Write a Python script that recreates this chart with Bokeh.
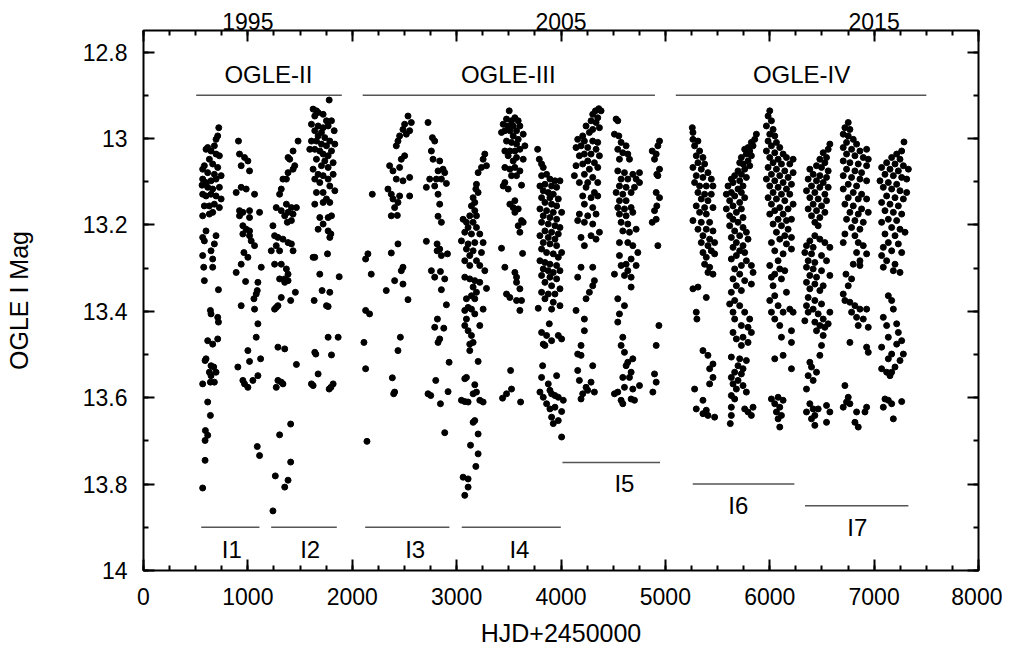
from bokeh.plotting import figure
from bokeh.models import Range1d, LinearAxis, FixedTicker, Label, ColumnDataSource
from bokeh.embed import file_html
from bokeh.resources import INLINE

# ---- photometry (HJD-2450000, OGLE I mag), read season by season ----
s01 = [(721,12.975),(711,12.994),(695,13.002),(679,13.017),(615,13.021),(599,13.025),(647,13.029),(695,13.036),(727,13.040),(631,13.048),(583,13.063),(663,13.059),(711,13.067),(567,13.071),(615,13.079),(679,13.083),(744,13.086),(567,13.094),(599,13.102),(647,13.098),(695,13.094),(561,13.108),(615,13.113),(663,13.117),(727,13.113),(567,13.129),(599,13.133),(647,13.129),(695,13.133),(744,13.140),(583,13.156),(631,13.156),(679,13.152),(727,13.160),(567,13.179),(631,13.175),(663,13.171),
       (599,13.214),(567,13.229),(583,13.237),(695,13.225),(679,13.244),(647,13.260),(567,13.271),(663,13.279),(577,13.298),(663,13.298),(583,13.329),(718,13.350),(641,13.398),(647,13.406),(711,13.414),(718,13.425),(615,13.468),(663,13.476),(711,13.464),(599,13.510),(590,13.514),(647,13.526),(673,13.529),(631,13.541),(695,13.541),(647,13.549),(567,13.568),(641,13.564),(679,13.564),(615,13.610),(641,13.641),(593,13.676),(615,13.687),(590,13.699),(590,13.745),(567,13.809)]
s02 = [(910,13.006),(920,13.036),(968,13.044),(1000,13.052),(936,13.063),(1016,13.075),(936,13.113),(984,13.117),(888,13.125),(1064,13.129),(920,13.167),(952,13.171),(1016,13.167),(1112,13.171),(920,13.179),(1016,13.183),(952,13.202),(984,13.210),(1016,13.214),(952,13.221),(1016,13.225),(1032,13.237),(1064,13.248),(962,13.264),(1000,13.275),(936,13.291),(1128,13.298),(888,13.310),(978,13.331),(1096,13.333),(1090,13.352),(1080,13.360),(1058,13.371),(936,13.387),(1064,13.395),(1096,13.429),(1080,13.460),(1000,13.491),(1016,13.516),(1122,13.510),(904,13.529),(952,13.560),(968,13.568),(1000,13.576),(1048,13.560),(1096,13.549),(1090,13.713),(1112,13.734)]
s03 = [(1481,13.006),(1433,13.029),(1385,13.044),(1401,13.048),(1449,13.063),(1433,13.071),(1385,13.079),(1336,13.094),(1369,13.094),(1320,13.117),(1304,13.129),(1272,13.160),(1369,13.152),(1417,13.160),(1465,13.160),(1320,13.167),(1385,13.171),(1433,13.175),(1353,13.179),(1378,13.194),(1240,13.202),(1417,13.190),(1256,13.225),(1288,13.229),(1336,13.233),(1385,13.241),(1417,13.244),(1272,13.248),(1224,13.260),(1433,13.260),(1304,13.260),(1256,13.291),(1320,13.291),(1369,13.302),(1385,13.314),(1353,13.325),(1304,13.325),(1353,13.333),(1385,13.329),(1455,13.356),(1320,13.368),(1410,13.375),(1272,13.391),(1256,13.395),(1288,13.387),(1288,13.483),(1353,13.487),(1465,13.523),(1288,13.560),(1320,13.564),(1272,13.576),(1336,13.568),(1304,13.686),(1410,13.661),(1410,13.749),(1263,13.781),(1385,13.791),(1353,13.807),(1240,13.862)]
s04 = [(1779,12.911),(1625,12.932),(1657,12.936),(1673,12.940),(1641,12.948),(1721,12.944),(1753,12.959),(1801,12.959),(1609,12.967),(1673,12.971),(1721,12.975),(1769,12.971),(1641,12.982),(1827,12.982),(1705,12.986),(1673,12.994),(1737,12.998),(1609,13.006),(1657,13.006),(1785,13.006),(1833,13.013),(1705,13.013),(1753,13.017),(1593,13.025),(1641,13.025),(1689,13.029),(1801,13.029),(1721,13.036),(1769,13.040),(1657,13.048),(1737,13.052),(1817,13.056),(1705,13.063),(1625,13.071),(1769,13.067),(1673,13.083),(1721,13.086),(1817,13.083),(1641,13.094),(1769,13.094),(1689,13.102),(1785,13.110),(1657,13.125),(1721,13.125),(1833,13.121),(1753,13.140),(1641,13.152),(1721,13.148),(1785,13.148),(1689,13.183),(1769,13.183),(1801,13.179),(1721,13.198),(1769,13.214),(1673,13.210),(1795,13.221),(1785,13.229),(1625,13.275),(1641,13.275),(1763,13.267),(1689,13.314),(1875,13.320),(1711,13.352),(1785,13.356),(1635,13.375),(1753,13.387),(1769,13.389),(1769,13.460),(1865,13.460),(1641,13.495),(1651,13.499),(1801,13.501),(1673,13.545),(1609,13.568),(1625,13.572),(1795,13.576),(1817,13.568),(1779,13.580)]
s05 = [(2192,13.129),(2150,13.267),(2128,13.279),(2182,13.314),(2128,13.398),(2166,13.406),(2112,13.472),(2128,13.533),(2141,13.701)]
s06 = [(2534,12.948),(2566,12.963),(2502,12.967),(2486,12.979),(2550,12.982),(2518,12.990),(2454,12.994),(2438,13.006),(2422,13.017),(2502,13.040),(2470,13.048),(2358,13.063),(2454,13.067),(2390,13.075),(2422,13.094),(2486,13.098),(2550,13.090),(2342,13.117),(2374,13.129),(2454,13.133),(2390,13.140),(2438,13.148),(2550,13.133),(2406,13.160),(2374,13.179),(2432,13.178),(2438,13.244),(2374,13.265),(2486,13.298),(2470,13.306),(2406,13.329),(2486,13.337),(2326,13.352),(2534,13.373),(2461,13.460),(2438,13.491),(2384,13.554),(2406,13.587),(2397,13.591)]
s07 = [(2726,12.963),(2768,12.998),(2790,13.006),(2758,13.029),(2774,13.048),(2838,13.052),(2870,13.071),(2822,13.075),(2886,13.079),(2742,13.094),(2806,13.094),(2854,13.094),(2710,13.113),(2790,13.110),(2902,13.104),(2822,13.129),(2838,13.152),(2822,13.180),(2854,13.194),(2710,13.238),(2813,13.244),(2838,13.256),(2813,13.260),(2912,13.267),(2854,13.271),(2758,13.306),(2845,13.308),(2790,13.321),(2886,13.325),(2854,13.350),(2902,13.385),(2816,13.418),(2790,13.437),(2877,13.439),(2838,13.464),(2822,13.472),(2928,13.518),(2800,13.560),(2726,13.591),(2752,13.595),(2845,13.614),(2918,13.586),(2886,13.681)]
s08 = [(3270,13.036),(3254,13.048),(3286,13.063),(3238,13.067),(3206,13.079),(3190,13.106),(3184,13.117),(3206,13.125),(3158,13.137),(3174,13.148),(3142,13.156),(3174,13.167),(3126,13.179),(3190,13.179),(3062,13.187),(3094,13.194),(3158,13.194),(3110,13.206),(3190,13.206),(3078,13.217),(3142,13.221),(3222,13.221),(3046,13.237),(3110,13.244),(3174,13.241),(3254,13.241),(3094,13.256),(3158,13.260),(3238,13.264),(3126,13.271),(3078,13.283),(3190,13.283),(3126,13.294),(3222,13.294),(3270,13.306),(3078,13.321),(3126,13.325),(3174,13.329),(3222,13.333),(3286,13.347),(3158,13.344),(3190,13.356),(3142,13.364),(3094,13.371),(3174,13.371),(3110,13.391),(3142,13.395),(3078,13.398),(3254,13.395),(3174,13.406),(3094,13.418),(3222,13.433),(3078,13.433),(3110,13.445),(3142,13.456),(3126,13.476),(3158,13.472),(3126,13.491),(3206,13.516),(3094,13.553),(3078,13.556),(3174,13.570),(3190,13.587),(3158,13.591),(3046,13.606),(3078,13.609),(3110,13.610),(3222,13.606),(3254,13.610),(3174,13.653),(3158,13.657),(3206,13.684),(3133,13.710),(3206,13.730),(3184,13.759),(3062,13.784),(3110,13.788),(3110,13.807),(3078,13.826)]
s09 = [(3504,12.936),(3558,12.952),(3478,12.955),(3526,12.959),(3590,12.959),(3446,12.967),(3494,12.971),(3542,12.971),(3606,12.971),(3462,12.982),(3510,12.982),(3574,12.982),(3638,12.990),(3430,12.986),(3542,12.994),(3590,13.002),(3478,13.006),(3526,13.009),(3574,13.013),(3654,13.017),(3462,13.029),(3510,13.029),(3558,13.029),(3606,13.025),(3494,13.040),(3574,13.044),(3638,13.048),(3542,13.052),(3462,13.067),(3510,13.071),(3558,13.067),(3606,13.075),(3526,13.086),(3574,13.086),(3462,13.102),(3446,13.110),(3494,13.117),(3622,13.108),(3558,13.144),(3510,13.152),(3542,13.160),(3590,13.163),(3558,13.171),(3622,13.190),(3638,13.194),(3590,13.202),(3606,13.217),(3430,13.254),(3632,13.266),(3462,13.298),(3558,13.310),(3574,13.321),(3574,13.333),(3606,13.348),(3478,13.360),(3510,13.368),(3574,13.375),(3622,13.375),(3606,13.398),(3517,13.537),(3526,13.580),(3478,13.591),(3440,13.601),(3613,13.610)]
s10 = [(3776,13.025),(3792,13.048),(3814,13.059),(3830,13.067),(3862,13.083),(3814,13.086),(3894,13.094),(3942,13.098),(3990,13.098),(3846,13.106),(3798,13.110),(3910,13.110),(3958,13.113),(3830,13.121),(3878,13.125),(3926,13.129),(3814,13.137),(3894,13.137),(3974,13.140),(3846,13.148),(3910,13.152),(3958,13.156),(3798,13.163),(3862,13.167),(3926,13.171),(4006,13.171),(3830,13.179),(3894,13.183),(3958,13.187),(3814,13.194),(3878,13.198),(3942,13.202),(3990,13.206),(3846,13.214),(3910,13.217),(3974,13.221),(3798,13.225),(3878,13.229),(3942,13.233),(3830,13.241),(3894,13.244),(3958,13.248),(4006,13.264),(3814,13.256),(3862,13.264),(3926,13.267),(3974,13.275),(3798,13.283),(3846,13.287),(3894,13.291),(3958,13.294),(3830,13.302),(3878,13.306),(3926,13.310),(3990,13.306),(3814,13.317),(3894,13.321),(3958,13.325),(3846,13.333),(3910,13.341),(3990,13.348),(3814,13.356),(3878,13.360),(3942,13.360),(3846,13.371),(3926,13.379),(3990,13.387),(3782,13.393),(3910,13.395),(3888,13.429),(3814,13.449),(3862,13.456),(3974,13.456),(4006,13.464),(3830,13.476),(3910,13.468),(3846,13.479),(3824,13.526),(3958,13.549),(3814,13.553),(3878,13.568),(3894,13.583),(3798,13.587),(3830,13.599),(3910,13.591),(3942,13.595),(3974,13.599),(4022,13.606),(3862,13.614),(3894,13.626),(3942,13.622),(4006,13.632),(3910,13.645),(3974,13.653),(3926,13.660),(4006,13.691)]
s11 = [(4362,12.931),(4330,12.936),(4384,12.936),(4304,12.944),(4352,12.952),(4288,12.959),(4336,12.963),(4368,12.975),(4240,12.971),(4304,12.979),(4272,12.986),(4208,12.994),(4160,13.002),(4224,13.006),(4304,13.006),(4352,13.009),(4192,13.017),(4256,13.021),(4336,13.025),(4144,13.021),(4224,13.036),(4288,13.036),(4176,13.040),(4368,13.040),(4256,13.052),(4320,13.056),(4208,13.059),(4144,13.063),(4352,13.067),(4272,13.071),(4128,13.086),(4224,13.083),(4304,13.090),(4176,13.102),(4256,13.102),(4352,13.102),(4240,13.113),(4320,13.125),(4208,13.133),(4288,13.137),(4352,13.133),(4224,13.152),(4304,13.160),(4176,13.175),(4256,13.179),(4160,13.190),(4224,13.194),(4304,13.198),(4336,13.175),(4368,13.217),(4192,13.229),(4224,13.248),(4288,13.225),(4336,13.233),(4192,13.298),(4304,13.298),(4160,13.321),(4320,13.329),(4304,13.341),(4272,13.356),(4240,13.371),(4144,13.398),(4224,13.418),(4224,13.445),(4192,13.479),(4160,13.499),(4192,13.502),(4304,13.526),(4160,13.537),(4176,13.560),(4288,13.564),(4240,13.576),(4208,13.591),(4320,13.587),(4192,13.603),(4256,13.583)]
s12 = [(4528,12.955),(4544,12.959),(4512,12.990),(4554,12.994),(4576,13.009),(4624,13.017),(4544,13.025),(4592,13.033),(4640,13.036),(4560,13.048),(4656,13.048),(4752,13.079),(4544,13.075),(4608,13.079),(4688,13.083),(4576,13.094),(4640,13.094),(4720,13.094),(4560,13.110),(4624,13.113),(4704,13.113),(4752,13.102),(4528,13.125),(4592,13.129),(4672,13.125),(4560,13.144),(4624,13.144),(4544,13.160),(4608,13.163),(4672,13.160),(4560,13.175),(4624,13.179),(4688,13.171),(4576,13.194),(4640,13.198),(4592,13.214),(4656,13.217),(4720,13.210),(4560,13.241),(4640,13.241),(4688,13.248),(4736,13.264),(4560,13.271),(4672,13.279),(4624,13.291),(4576,13.294),(4720,13.294),(4640,13.306),(4512,13.314),(4608,13.317),(4672,13.321),(4672,13.344),(4544,13.371),(4608,13.387),(4560,13.406),(4544,13.425),(4592,13.460),(4576,13.479),(4608,13.495),(4640,13.518),(4688,13.510),(4624,13.526),(4672,13.541),(4592,13.553),(4656,13.553),(4752,13.572),(4544,13.587),(4608,13.576),(4688,13.580),(4512,13.591),(4672,13.603),(4576,13.606),(4704,13.606),(4592,13.614)]
s13 = [(4944,13.006),(4928,13.017),(4874,13.029),(4912,13.036),(4896,13.048),(4944,13.071),(4918,13.083),(4928,13.086),(4912,13.125),(4944,13.137),(4918,13.156),(4896,13.167),(4874,13.194),(4912,13.187),(4928,13.248),(4938,13.433),(4912,13.479),(4896,13.545),(4912,13.564),(4880,13.587)]
s14 = [(5258,12.975),(5264,12.986),(5264,13.002),(5312,13.006),(5280,13.017),(5328,13.029),(5296,13.040),(5360,13.044),(5312,13.056),(5376,13.059),(5264,13.067),(5344,13.071),(5408,13.079),(5296,13.086),(5360,13.090),(5440,13.094),(5280,13.102),(5328,13.110),(5392,13.110),(5456,13.110),(5312,13.125),(5376,13.129),(5440,13.129),(5344,13.140),(5408,13.144),(5296,13.156),(5376,13.160),(5456,13.160),(5328,13.171),(5392,13.175),(5264,13.190),(5344,13.194),(5424,13.194),(5312,13.210),(5392,13.210),(5456,13.214),(5360,13.225),(5424,13.233),(5344,13.241),(5408,13.248),(5472,13.241),(5360,13.264),(5440,13.260),(5392,13.275),(5472,13.267),(5376,13.291),(5424,13.298),(5408,13.310),(5456,13.314),(5264,13.348),(5312,13.344),(5392,13.368),(5296,13.402),(5302,13.418),(5360,13.491),(5408,13.502),(5456,13.522),(5424,13.533),(5456,13.553),(5280,13.580),(5424,13.568),(5360,13.606),(5296,13.626),(5360,13.637),(5408,13.641),(5472,13.645),(5392,13.629)]
s15 = [(5872,12.990),(5856,13.002),(5824,13.009),(5840,13.017),(5792,13.021),(5808,13.029),(5760,13.025),(5776,13.036),(5824,13.040),(5728,13.044),(5792,13.052),(5744,13.059),(5712,13.056),(5808,13.063),(5760,13.071),(5696,13.075),(5728,13.083),(5664,13.086),(5776,13.090),(5632,13.094),(5712,13.098),(5648,13.102),(5744,13.110),(5600,13.110),(5696,13.117),(5632,13.125),(5728,13.125),(5584,13.129),(5664,13.133),(5760,13.137),(5616,13.144),(5712,13.148),(5648,13.156),(5584,13.163),(5728,13.163),(5680,13.171),(5616,13.179),(5744,13.183),(5648,13.187),(5696,13.194),(5616,13.202),(5744,13.206),(5664,13.214),(5776,13.217),(5712,13.225),(5632,13.229),(5792,13.233),(5680,13.241),(5744,13.248),(5648,13.252),(5712,13.260),(5760,13.264),(5680,13.271),(5632,13.279),(5776,13.283),(5824,13.294),(5728,13.294),(5664,13.302),(5840,13.310),(5712,13.314),(5648,13.325),(5760,13.329),(5824,13.337),(5680,13.341),(5632,13.356),(5728,13.352),(5664,13.375),(5616,13.383),(5712,13.387),(5648,13.402),(5760,13.402),(5664,13.418),(5808,13.418),(5728,13.433),(5792,13.437),(5648,13.449),(5824,13.449),(5744,13.460),(5680,13.464),(5792,13.472),(5728,13.479),(5632,13.506),(5712,13.510),(5776,13.514),(5696,13.526),(5744,13.533),(5664,13.541),(5728,13.545),(5632,13.553),(5696,13.560),(5648,13.568),(5744,13.572),(5680,13.580),(5776,13.587),(5632,13.595),(5664,13.603),(5632,13.622),(5760,13.626),(5840,13.622),(5792,13.633),(5632,13.641),(5824,13.641),(5622,13.660)]
s16 = [(6000,12.936),(5984,12.948),(6016,12.959),(5968,12.971),(6032,12.979),(6000,12.990),(6048,12.994),(5984,13.006),(6064,13.009),(6016,13.017),(6096,13.021),(5968,13.029),(6048,13.033),(6128,13.036),(6000,13.044),(6080,13.048),(6160,13.044),(6224,13.048),(6032,13.056),(6112,13.059),(6192,13.059),(5984,13.067),(6064,13.071),(6144,13.075),(6224,13.079),(6016,13.083),(6096,13.086),(6176,13.090),(5968,13.094),(6048,13.098),(6128,13.102),(6208,13.106),(6000,13.110),(6080,13.113),(6160,13.117),(6032,13.125),(6112,13.129),(6192,13.129),(5984,13.137),(6064,13.140),(6144,13.144),(6224,13.152),(6016,13.152),(6096,13.160),(6176,13.163),(6048,13.167),(6128,13.175),(6000,13.175),(6080,13.187),(6160,13.190),(6208,13.187),(6032,13.198),(6112,13.202),(6176,13.210),(6064,13.217),(6144,13.225),(6208,13.229),(6096,13.233),(6016,13.241),(6160,13.244),(6208,13.256),(6048,13.260),(6128,13.267),(6080,13.283),(6000,13.294),(6096,13.302),(6048,13.314),(6144,13.306),(6016,13.321),(6112,13.325),(6032,13.341),(6160,13.356),(6048,13.364),(6000,13.375),(6080,13.387),(6224,13.402),(6016,13.402),(6128,13.402),(6192,13.395),(6048,13.418),(6096,13.433),(6208,13.445),(6112,13.460),(6208,13.472),(6048,13.510),(6128,13.502),(6208,13.533),(6016,13.603),(6080,13.599),(6128,13.606),(6048,13.614),(6096,13.622),(6064,13.633),(6112,13.641),(6080,13.649),(6096,13.668)]
s17 = [(6576,13.013),(6560,13.025),(6512,13.033),(6544,13.044),(6480,13.048),(6528,13.056),(6448,13.063),(6496,13.067),(6384,13.071),(6560,13.075),(6416,13.083),(6480,13.086),(6544,13.090),(6368,13.094),(6448,13.098),(6512,13.102),(6400,13.110),(6480,13.113),(6560,13.113),(6352,13.121),(6432,13.125),(6528,13.129),(6384,13.137),(6464,13.140),(6544,13.144),(6416,13.152),(6496,13.156),(6368,13.163),(6448,13.167),(6528,13.171),(6400,13.179),(6480,13.183),(6432,13.194),(6464,13.202),(6432,13.225),(6480,13.233),(6384,13.237),(6528,13.241),(6352,13.248),(6416,13.252),(6576,13.252),(6336,13.264),(6400,13.267),(6496,13.271),(6368,13.283),(6432,13.287),(6544,13.283),(6352,13.298),(6416,13.302),(6496,13.306),(6384,13.317),(6448,13.321),(6352,13.333),(6432,13.337),(6512,13.341),(6384,13.348),(6480,13.352),(6576,13.317),(6368,13.368),(6432,13.375),(6352,13.387),(6496,13.383),(6416,13.395),(6368,13.402),(6464,13.406),(6512,13.418),(6576,13.402),(6336,13.422),(6432,13.425),(6480,13.433),(6528,13.437),(6560,13.429),(6448,13.445),(6512,13.456),(6496,13.479),(6480,13.502),(6384,13.518),(6400,13.529),(6448,13.541),(6368,13.549),(6416,13.560),(6352,13.580),(6384,13.614),(6416,13.626),(6352,13.633),(6432,13.641),(6400,13.649),(6544,13.618),(6576,13.633),(6464,13.626),(6544,13.657),(6432,13.664)]
s18 = [(6752,12.963),(6720,12.975),(6768,12.979),(6704,12.990),(6752,12.994),(6800,13.002),(6736,13.009),(6832,13.013),(6704,13.021),(6784,13.025),(6864,13.029),(6928,13.025),(6736,13.036),(6816,13.040),(6896,13.044),(6944,13.048),(6704,13.052),(6768,13.056),(6848,13.059),(6928,13.063),(6736,13.071),(6816,13.075),(6880,13.079),(6704,13.086),(6784,13.090),(6864,13.094),(6928,13.098),(6752,13.106),(6832,13.110),(6704,13.117),(6800,13.125),(6880,13.129),(6752,13.137),(6848,13.140),(6928,13.140),(6720,13.152),(6800,13.156),(6880,13.163),(6768,13.171),(6848,13.175),(6944,13.171),(6736,13.187),(6816,13.190),(6896,13.194),(6784,13.206),(6864,13.210),(6720,13.221),(6816,13.225),(6848,13.241),(6704,13.241),(6896,13.248),(6832,13.264),(6928,13.267),(6864,13.283),(6800,13.291),(6730,13.314),(6864,13.294),(6784,13.325),(6752,13.341),(6704,13.360),(6720,13.375),(6768,13.379),(6816,13.387),(6864,13.395),(6784,13.402),(6928,13.395),(6832,13.414),(6896,13.418),(6848,13.433),(6944,13.437),(6768,13.472),(6928,13.483),(6944,13.495),(6720,13.572),(6752,13.599),(6736,13.610),(6704,13.622),(6768,13.614),(6832,13.633),(6848,13.668),(6816,13.657),(6928,13.622),(6912,13.633)]
s19 = [(7286,13.008),(7264,13.029),(7216,13.036),(7168,13.044),(7248,13.048),(7120,13.056),(7200,13.059),(7280,13.063),(7328,13.071),(7072,13.067),(7152,13.071),(7232,13.075),(7104,13.083),(7184,13.086),(7264,13.090),(7312,13.094),(7056,13.098),(7136,13.102),(7216,13.106),(7088,13.113),(7168,13.117),(7248,13.121),(7312,13.125),(7120,13.133),(7200,13.137),(7280,13.140),(7072,13.148),(7152,13.152),(7232,13.156),(7104,13.167),(7184,13.171),(7264,13.175),(7136,13.187),(7216,13.190),(7072,13.194),(7168,13.206),(7248,13.210),(7296,13.217),(7104,13.221),(7200,13.225),(7136,13.241),(7232,13.244),(7088,13.252),(7168,13.260),(7264,13.264),(7072,13.271),(7120,13.283),(7200,13.291),(7088,13.298),(7184,13.306),(7248,13.310),(7136,13.364),(7168,13.375),(7184,13.395),(7088,13.414),(7120,13.433),(7216,13.429),(7232,13.449),(7264,13.468),(7136,13.460),(7072,13.483),(7216,13.476),(7168,13.499),(7280,13.499),(7136,13.510),(7248,13.514),(7072,13.533),(7120,13.541),(7168,13.541),(7200,13.529),(7152,13.549),(7104,13.603),(7136,13.606),(7168,13.614),(7088,13.622),(7184,13.649),(7264,13.609)]
seasons = [s01, s02, s03, s04, s05, s06, s07, s08, s09, s10,
           s11, s12, s13, s14, s15, s16, s17, s18, s19]

# ---- survey spans (top) and interval spans (bottom) ----
survey_names = ["OGLE-II", "OGLE-III", "OGLE-IV"]
survey_start = [505, 2100, 5100]
survey_end = [1900, 4900, 7500]
survey_mag = [12.9, 12.9, 12.9]
survey_label_x = [1197, 3495, 6305]
survey_label_mag = [12.852, 12.852, 12.852]

interval_names = ["I1", "I2", "I3", "I4", "I5", "I6", "I7"]
interval_start = [553, 1223, 2124, 3049, 4014, 5262, 6338]
interval_end = [1111, 1852, 2931, 3998, 4949, 6236, 7328]
interval_mag = [13.9, 13.9, 13.9, 13.9, 13.75, 13.8, 13.85]
interval_label_x = [846, 1597, 2603, 3602, 4608, 5699, 6839]
interval_label_mag = [13.952, 13.952, 13.952, 13.952, 13.799, 13.85, 13.901]

x_ticks = [0, 1000, 2000, 3000, 4000, 5000, 6000, 7000, 8000]
x_minor = [i * 250 for i in range(33)]
y_ticks = [12.8, 13.0, 13.2, 13.4, 13.6, 13.8, 14.0]
y_tick_labels = ["12.8", "13", "13.2", "13.4", "13.6", "13.8", "14"]
y_minor = [12.8, 12.9, 13.0, 13.1, 13.2, 13.3, 13.4, 13.5, 13.6, 13.7, 13.8, 13.9, 14.0]
year_ticks = [1000, 4000, 7000]
year_labels = ["1995", "2005", "2015"]

FONT = "Liberation Sans"

hjd = [pt[0] for s in seasons for pt in s]
mag = [pt[1] for s in seasons for pt in s]

p = figure(width=1002, height=649, x_range=Range1d(0, 8000), y_range=Range1d(14, 12.75),
           output_backend="svg", toolbar_location=None,
           min_border_left=143, min_border_right=24, min_border_top=30, min_border_bottom=78,
           background_fill_color="white", border_fill_color="white")
p.xgrid.visible = False
p.ygrid.visible = False
p.outline_line_color = "black"
p.outline_line_width = 2

# right axis (ticks only), top axis with ticks, and an outer top axis carrying the year labels
p.add_layout(LinearAxis(), "right")
top = LinearAxis()
p.add_layout(top, "above")
top_years = LinearAxis(ticker=FixedTicker(ticks=year_ticks, minor_ticks=[]))
p.add_layout(top_years, "above")

bottom = p.below[0]
left = p.left[0]
right = p.right[0]

for ax in (bottom, top):
    ax.ticker = FixedTicker(ticks=x_ticks, minor_ticks=x_minor)
for ax in (left, right):
    ax.ticker = FixedTicker(ticks=y_ticks, minor_ticks=y_minor)

for ax in p.axis:
    ax.axis_line_color = None
    ax.major_tick_in = 11
    ax.major_tick_out = 0
    ax.minor_tick_in = 5
    ax.minor_tick_out = 0
    ax.major_tick_line_width = 2
    ax.minor_tick_line_width = 2
    ax.major_tick_line_color = "black"
    ax.minor_tick_line_color = "black"
    ax.major_label_text_font = FONT
    ax.major_label_text_font_size = "23px"
    ax.major_label_text_color = "black"
    ax.axis_label_text_font = FONT
    ax.axis_label_text_font_size = "25px"
    ax.axis_label_text_font_style = "normal"
    ax.axis_label_text_color = "black"

bottom.axis_label = "HJD+2450000"
bottom.major_label_standoff = 17
bottom.axis_label_standoff = 11
bottom.major_label_overrides = {t: str(t) for t in x_ticks}

left.axis_label = "OGLE I Mag"
left.major_label_standoff = 16
left.axis_label_standoff = 47
left.major_label_overrides = {t: l for t, l in zip(y_ticks, y_tick_labels)}

for ax in (right, top):
    ax.major_label_text_font_size = "1px"
    ax.major_label_text_color = None
    ax.major_label_standoff = 0

top_years.major_tick_in = 0
top_years.major_tick_line_color = None
top_years.minor_tick_line_color = None
top_years.major_label_standoff = 1
top_years.major_label_overrides = {t: l for t, l in zip(year_ticks, year_labels)}

p.scatter(hjd, mag, size=6, color="black", marker="circle")

seg = ColumnDataSource(dict(
    x0=survey_start + interval_start, x1=survey_end + interval_end,
    y=survey_mag + interval_mag))
p.segment(x0="x0", y0="y", x1="x1", y1="y", source=seg, line_color="#555555", line_width=1.5)

for name, x, y in zip(survey_names, survey_label_x, survey_label_mag):
    p.add_layout(Label(x=x, y=y, text=name, text_align="center", text_baseline="middle",
                       text_font=FONT, text_font_size="24px", text_color="black"))
for name, x, y in zip(interval_names, interval_label_x, interval_label_mag):
    p.add_layout(Label(x=x, y=y, text=name, text_align="center", text_baseline="middle",
                       text_font=FONT, text_font_size="24px", text_color="black"))

open("out.html", "w").write(file_html(p, INLINE))
